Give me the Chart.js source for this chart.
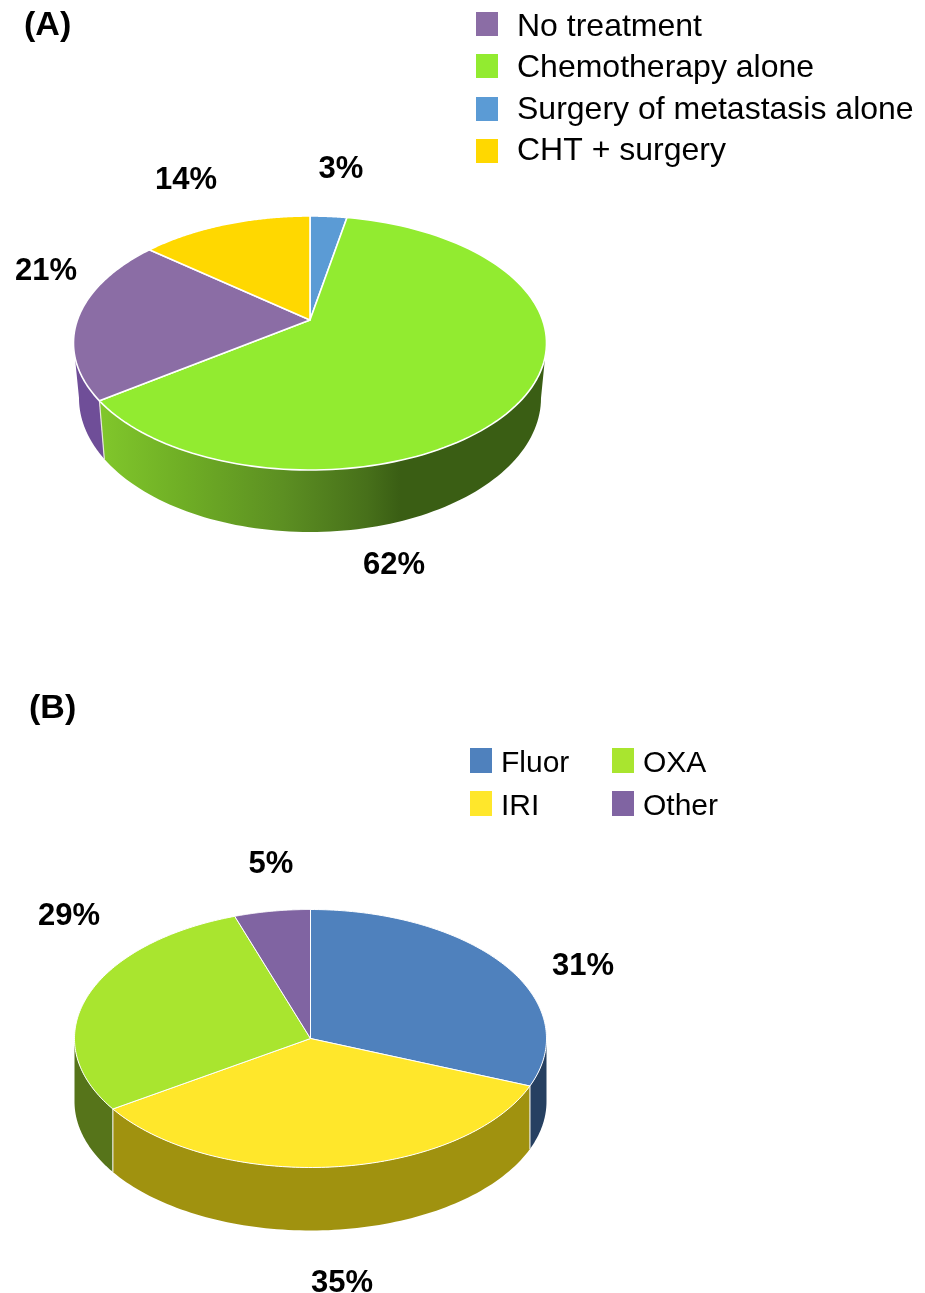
<!DOCTYPE html>
<html>
<head>
<meta charset="utf-8">
<title>Treatment pies</title>
<script src="https://cdn.jsdelivr.net/npm/chart.js@4"></script>
<style>
    body { margin: 0; background: #fff; }
    canvas { display: block; }
</style>
</head>
<body>
<canvas id="chartA" width="925" height="646"></canvas>
<canvas id="chartB" width="925" height="647"></canvas>
<script>
// clockwise from 12 o'clock
const categoriesA = ["Surgery of metastasis alone", "Chemotherapy alone", "No treatment", "CHT + surgery"];
const valuesA = [3, 62, 21, 14];
const colorsA = ["#5B9BD5", "#92EB30", "#8B6DA5", "#FFD800"];
const legendOrderA = [2, 1, 0, 3];

const categoriesB = ["Fluor", "IRI", "OXA", "Other"];
const valuesB = [31, 34.8, 29, 5.2];
const colorsB = ["#4F81BD", "#FFE72B", "#A9E52F", "#8064A2"];
const legendOrderB = [0, 1, 2, 3];

const percentFont = "bold 31px 'Liberation Sans', Arial, sans-serif";

function sidePoint(top, bottom, phi, useBottom) {
    let e = useBottom ? bottom : top;
    return [e.x + e.rx * Math.sin(phi), e.y - e.ry * Math.cos(phi)];
}

// moves the pie centre to the apex the way the perspective does, keeps the rim on the ellipse
function rimAngle(angle, lift) {
    let theta = angle + Math.PI / 2;
    let X = Math.sin(theta);
    let Y = -Math.cos(theta);
    let d = 1 + lift * Y;
    let X2 = X * Math.sqrt(1 - lift * lift) / d;
    let Y2 = (Y + lift) / d;
    let phi = Math.atan2(X2, -Y2);
    if (phi < 0) phi += Math.PI * 2;
    return phi;
}

function sliceRange(arc, lift) {
    let a = rimAngle(arc.startAngle, lift);
    let b = rimAngle(arc.endAngle, lift);
    if (arc.endAngle + Math.PI / 2 >= Math.PI * 2 - 1e-6) b = Math.PI * 2;
    if (b <= a) b += Math.PI * 2;
    return [a, b];
}

const tiltedPie = {
    id: "tiltedPie",
    beforeDatasetsDraw(chart, args, opts) {
        const ctx = chart.ctx;
        const arcs = chart.getDatasetMeta(0).data;
        const colors = chart.data.datasets[0].backgroundColor;
        const top = opts.top;
        const bottom = opts.bottom;

        // side walls, only the front half of the rim can be seen
        arcs.forEach((arc, i) => {
            let range = sliceRange(arc, opts.lift);
            let from = Math.max(range[0], Math.PI / 2);
            let to = Math.min(range[1], Math.PI * 1.5);
            if (to <= from) return;
            ctx.beginPath();
            for (let k = 0; k <= 90; k++) {
                let p = sidePoint(top, bottom, from + (to - from) * k / 90, false);
                k === 0 ? ctx.moveTo(p[0], p[1]) : ctx.lineTo(p[0], p[1]);
            }
            for (let k = 90; k >= 0; k--) {
                let p = sidePoint(top, bottom, from + (to - from) * k / 90, true);
                ctx.lineTo(p[0], p[1]);
            }
            ctx.closePath();
            let wall = opts.walls[i];
            if (Array.isArray(wall)) {
                let grad = ctx.createLinearGradient(wall[0].x, 0, wall[wall.length - 1].x, 0);
                let span = wall[wall.length - 1].x - wall[0].x;
                wall.forEach(s => grad.addColorStop((s.x - wall[0].x) / span, s.c));
                ctx.fillStyle = grad;
            } else {
                ctx.fillStyle = wall;
            }
            ctx.fill();
        });

        // white edge between walls
        arcs.forEach(arc => {
            let phi = sliceRange(arc, opts.lift)[0];
            if (phi <= Math.PI / 2 || phi >= Math.PI * 1.5) return;
            let p = sidePoint(top, bottom, phi, false);
            let q = sidePoint(top, bottom, phi, true);
            ctx.beginPath();
            ctx.moveTo(p[0], p[1]);
            ctx.lineTo(q[0], q[1]);
            ctx.strokeStyle = "#e8e8e0";
            ctx.lineWidth = 1.2;
            ctx.stroke();
        });

        // top faces
        arcs.forEach((arc, i) => {
            let range = sliceRange(arc, opts.lift);
            ctx.beginPath();
            ctx.moveTo(top.x, top.y + opts.lift * top.ry);
            for (let k = 0; k <= 120; k++) {
                let p = sidePoint(top, bottom, range[0] + (range[1] - range[0]) * k / 120, false);
                ctx.lineTo(p[0], p[1]);
            }
            ctx.closePath();
            ctx.fillStyle = colors[i];
            ctx.fill();
            ctx.strokeStyle = "#fff";
            ctx.lineWidth = opts.edge;
            ctx.lineJoin = "round";
            ctx.stroke();
        });
        return false;
    },
    afterDraw(chart, args, opts) {
        const ctx = chart.ctx;
        ctx.save();
        ctx.fillStyle = "#000";
        ctx.textBaseline = "middle";

        ctx.font = "bold 34px 'Liberation Sans', Arial, sans-serif";
        ctx.textAlign = "left";
        ctx.fillText(opts.panel.text, opts.panel.x, opts.panel.y);

        ctx.font = percentFont;
        ctx.textAlign = "center";
        const values = chart.data.datasets[0].data;
        values.forEach((v, i) => {
            ctx.fillText(Math.round(v) + "%", opts.percents[i][0], opts.percents[i][1]);
        });

        ctx.textAlign = "left";
        ctx.font = opts.legend.font;
        opts.legend.order.forEach((idx, n) => {
            let cell = opts.legend.cells[n];
            ctx.fillStyle = chart.data.datasets[0].backgroundColor[idx];
            ctx.fillRect(cell[0], cell[1], opts.legend.box, opts.legend.boxH);
            ctx.fillStyle = "#000";
            ctx.fillText(chart.data.labels[idx], cell[0] + opts.legend.gap, cell[2]);
        });
        ctx.restore();
    }
};

function makePie(id, labels, values, colors, tilt) {
    return new Chart(document.getElementById(id), {
        type: "pie",
        data: {
            labels: labels,
            datasets: [{ data: values, backgroundColor: colors, borderWidth: 0 }]
        },
        options: {
            responsive: false,
            animation: false,
            events: [],
            plugins: {
                legend: { display: false },
                tooltip: { enabled: false },
                tiltedPie: tilt
            }
        },
        plugins: [tiltedPie]
    });
}

let myChartA = makePie("chartA", categoriesA, valuesA, colorsA, {
    top: { x: 310, y: 343, rx: 236.5, ry: 127 },
    bottom: { x: 310, y: 398, rx: 231, ry: 134 },
    lift: -0.181,
    edge: 1.6,
    walls: [
        "#3A5E14",
        [{ x: 103, c: "#80C62B" }, { x: 183, c: "#6FAE25" }, { x: 283, c: "#5C8F22" }, { x: 367, c: "#47701A" }, { x: 400, c: "#3A5E14" }, { x: 545, c: "#3A5E14" }],
        "#6F4E98",
        "#8a7400"
    ],
    panel: { text: "(A)", x: 24, y: 26 },
    percents: [[341, 169], [394, 565], [46, 271], [186, 180]],
    legend: {
        order: legendOrderA,
        font: "32px 'Liberation Sans', Arial, sans-serif",
        box: 22,
        boxH: 24,
        gap: 41,
        cells: [[476, 12, 27], [476, 54, 68.5], [476, 97, 110], [476, 139, 151.5]]
    }
});

let myChartB = makePie("chartB", categoriesB, valuesB, colorsB, {
    top: { x: 310.5, y: 392.5, rx: 236, ry: 129 },
    bottom: { x: 310.5, y: 455.5, rx: 236, ry: 129 },
    lift: 0,
    edge: 1,
    walls: ["#264061", "#A0920F", "#56741A", "#4d3c66"],
    panel: { text: "(B)", x: 29, y: 63 },
    percents: [[583, 320], [342, 637], [69, 270], [271, 218]],
    legend: {
        order: legendOrderB,
        font: "30px 'Liberation Sans', Arial, sans-serif",
        box: 22,
        boxH: 25,
        gap: 31,
        cells: [[470, 102, 118], [470, 145, 160.5], [612, 102, 118], [612, 145, 160.5]]
    }
});
</script>
</body>
</html>
